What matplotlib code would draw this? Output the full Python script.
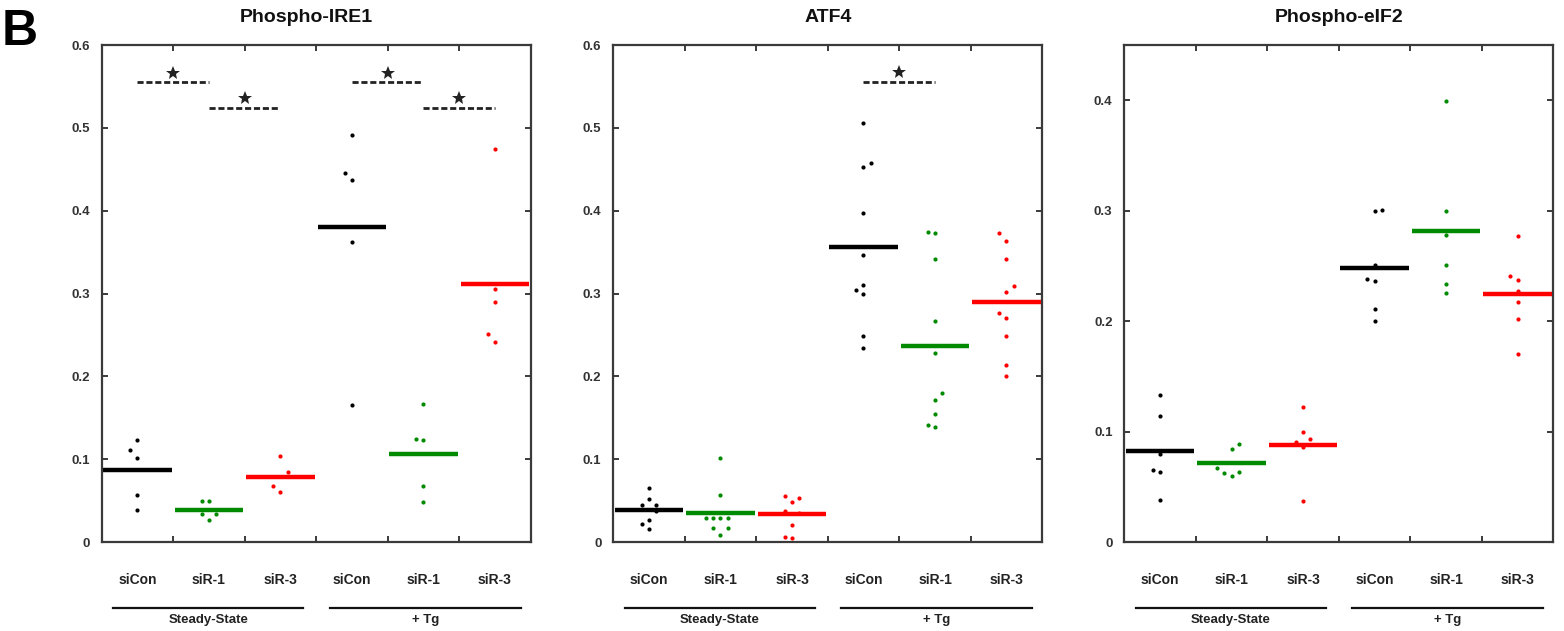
import matplotlib
matplotlib.use("Agg")
import matplotlib.pyplot as plt
import numpy as np

plt.rcParams['font.family'] = ['Liberation Sans', 'DejaVu Sans']
plt.rcParams['font.weight'] = 'bold'

# categories
groups = ['siCon', 'siR-1', 'siR-3', 'siCon', 'siR-1', 'siR-3']
conditions = ['Steady-State', '+ Tg']
colors = ['black', '#008a00', '#ff0000'] * 2

# Phospho-IRE1
ire1_means = [0.087, 0.039, 0.079, 0.380, 0.106, 0.312]
ire1_pts = [
    [0.1227, 0.1106, 0.1017, 0.0567, 0.0382],
    [0.0499, 0.0499, 0.0342, 0.0342, 0.0270],
    [0.1042, 0.0840, 0.0680, 0.0599],
    [0.491, 0.4456, 0.4367, 0.3623, 0.1653],
    [0.1669, 0.1243, 0.1227, 0.0680, 0.0487],
    [0.4741, 0.3052, 0.2900, 0.2510, 0.2417],
]
ire1_jit = [
    [0, -1, 0, 0, 0],
    [-1, 0, -1, 1, 0],
    [0, 1, -1, 0],
    [0, -1, 0, 0, 0],
    [0, -1, 0, 0, 0],
    [0, 0, 0, -1, 0],
]
ire1_sig = [(0, 1, 0.5555), (1, 2, 0.5245), (3, 4, 0.5555), (4, 5, 0.5245)]

# ATF4
atf4_means = [0.0386, 0.0354, 0.0334, 0.3557, 0.2371, 0.2894]
atf4_pts = [
    [0.0651, 0.0523, 0.0442, 0.0442, 0.037, 0.0261, 0.0213, 0.0161],
    [0.1017, 0.0571, 0.0293, 0.0293, 0.0293, 0.0293, 0.0173, 0.0173, 0.008],
    [0.0551, 0.0535, 0.0482, 0.038, 0.035, 0.0209, 0.006, 0.0048],
    [0.5056, 0.4574, 0.4522, 0.3967, 0.3469, 0.3103, 0.3047, 0.299, 0.2492, 0.2339],
    [0.3746, 0.373, 0.3416, 0.2669, 0.2279, 0.1801, 0.172, 0.1543, 0.1407, 0.1387],
    [0.373, 0.3629, 0.3416, 0.3091, 0.3018, 0.2765, 0.2705, 0.2488, 0.2134, 0.2002],
]
atf4_jit = [
    [0, 0, -1, 1, 1, 0, -1, 0],
    [0, 0, -2, -1, 0, 1, -1, 1, 0],
    [-1, 1, 0, -1, 1, 0, -1, 0],
    [0, 1, 0, 0, 0, 0, -1, 0, 0, 0],
    [-1, 0, 0, 0, 0, 1, 0, 0, -1, 0],
    [-1, 0, 0, 1, 0, -1, 0, 0, 0, 0],
]
atf4_sig = [(3, 4, 0.5559)]

# Phospho-eIF2
eif2_means = [0.0824, 0.0713, 0.0881, 0.2484, 0.2815, 0.2247]
eif2_pts = [
    [0.1332, 0.1143, 0.0797, 0.0653, 0.0632, 0.0382],
    [0.0887, 0.0845, 0.0671, 0.0629, 0.0632, 0.0602],
    [0.1224, 0.0992, 0.0932, 0.0908, 0.0863, 0.0373],
    [0.3005, 0.2998, 0.2508, 0.2382, 0.2367, 0.2111, 0.1997],
    [0.3997, 0.2998, 0.2779, 0.2505, 0.234, 0.2256],
    [0.277, 0.2412, 0.2376, 0.2277, 0.2177, 0.2021, 0.1699],
]
eif2_jit = [
    [0, 0, 0, -1, 0, 0],
    [1, 0, -2, -1, 1, 0],
    [0, 0, 1, -1, 0, 0],
    [1, 0, 0, -1, 0, 0, 0],
    [0, 0, 0, 0, 0, 0],
    [0, -1, 0, 0, 0, 0, 0],
]
eif2_sig = []

panels = [
    ('Phospho-IRE1', ire1_means, ire1_pts, ire1_jit, ire1_sig, 0.6, np.arange(0, 0.61, 0.1), 0.065, 0.477),
    ('ATF4', atf4_means, atf4_pts, atf4_jit, atf4_sig, 0.6, np.arange(0, 0.61, 0.1), 0.3921, 0.5),
    ('Phospho-eIF2', eif2_means, eif2_pts, eif2_jit, eif2_sig, 0.45, np.arange(0, 0.41, 0.1), 0.7189, 0.5),
]

fig = plt.figure(figsize=(15.64, 6.31), dpi=100)
spine_col = '#3a3a3a'

for title, means, pts, jit, sig, ymax, yt, left, tx in panels:
    ax = fig.add_axes([left, 0.141, 0.2743, 0.7876])
    ax.set_xlim(0, 6)
    ax.set_ylim(0, ymax)

    for i in range(6):
        ax.plot([i + 0.02, i + 0.98], [means[i], means[i]], color=colors[i],
                lw=3.2, solid_capstyle='butt', zorder=2)
        xs = i + 0.5 + 0.1 * np.array(jit[i])
        ax.plot(xs, pts[i], 'o', color=colors[i], ms=3.0, mew=0, zorder=3)

    for a, b, y in sig:
        ax.plot([a + 0.5, b + 0.5], [y, y], color='#222222', lw=2.0,
                linestyle=(0, (2.2, 1.0)), zorder=2)
        ax.plot([(a + b) / 2 + 0.5], [y + 0.011], marker='*', color='#222222',
                ms=10, mew=0)

    ax.set_xticks([1, 2, 3, 4, 5])
    ax.set_xticklabels([])
    ax.set_yticks(yt)
    ax.set_yticklabels(['0' if v < 1e-9 else f'{v:.1f}' for v in yt])
    ax.tick_params(axis='x', direction='in', top=True, bottom=True, length=4.5,
                   width=1.4, color=spine_col)
    ax.tick_params(axis='y', direction='in', left=True, right=True, length=4.5,
                   width=1.4, color=spine_col, labelsize=9.5, pad=8.5,
                   labelcolor='#333333')
    for s in ax.spines.values():
        s.set_linewidth(1.6)
        s.set_color(spine_col)

    # category labels
    for i, g in enumerate(groups):
        ax.text(i + 0.5, -0.0765, g, transform=ax.get_xaxis_transform(),
                ha='center', va='center', fontsize=10, color='#222222')
    # condition brackets
    for (x0, x1), cond in zip([(0.16, 2.82), (3.19, 5.86)], conditions):
        ax.plot([x0, x1], [-0.1325, -0.1325], color='#111111', lw=1.6,
                transform=ax.get_xaxis_transform(), clip_on=False)
        ax.text((x0 + x1) / 2, -0.157, cond, transform=ax.get_xaxis_transform(),
                ha='center', va='center', fontsize=9.5, color='#222222')

    ax.text(tx, 1.0 + 23.5 / 497, title, transform=ax.transAxes, ha='center',
            va='baseline', fontsize=14, color='#111111')

fig.text(0.001, 1 - 45 / 631, 'B', fontsize=36, va='baseline', ha='left',
         color='black')

fig.savefig('out.png', dpi=100)
